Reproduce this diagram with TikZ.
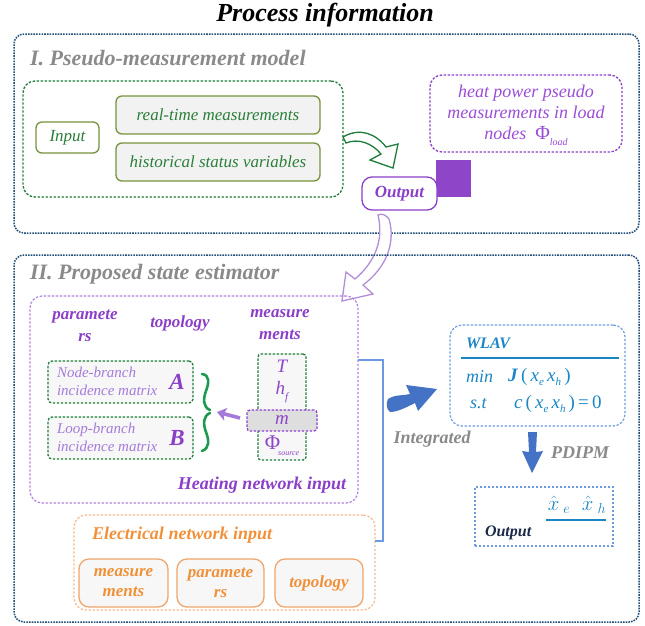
\documentclass[tikz,border=0pt]{standalone}
\usepackage{fontspec}
\setmainfont{Liberation Serif}
\usetikzlibrary{arrows.meta}

\definecolor{dkblue}{HTML}{1F4E79}
\definecolor{grtext}{HTML}{2A7F3A}
\definecolor{grdash}{HTML}{1E7B3A}
\definecolor{olive}{HTML}{77933C}
\definecolor{boxfill}{HTML}{F2F2F2}
\definecolor{lightfill}{HTML}{F7F7F7}
\definecolor{secgray}{HTML}{8A8A8A}
\definecolor{purp}{HTML}{8B3FC8}
\definecolor{purplight}{HTML}{9A4DD6}
\definecolor{purpsoft}{HTML}{A47BDB}
\definecolor{purpline}{HTML}{B07FE0}
\definecolor{purparrow}{HTML}{B38FDB}
\definecolor{sqfill}{HTML}{8E45C8}
\definecolor{brgreen}{HTML}{1E9A50}
\definecolor{wlav}{HTML}{1A86C4}
\definecolor{ltblue}{HTML}{6C9AE0}
\definecolor{arrblue}{HTML}{4472C4}
\definecolor{navy}{HTML}{1B2A48}
\definecolor{orng}{HTML}{F0913A}
\definecolor{orngline}{HTML}{F6B98C}
\definecolor{orngbox}{HTML}{F0A56C}

\newcommand\fsz[2]{\fontsize{#1pt}{#2pt}\selectfont}
\newcommand\lowsub[1]{\raisebox{-4pt}{\fsz{11}{11}\itshape #1}}

\tikzset{
  every node/.style={inner sep=0pt, outer sep=0pt},
  outerbox/.style={draw=dkblue, line width=1.5pt, dash pattern=on 1.6pt off 1.1pt, rounded corners=10pt},
  greenbox/.style={draw=grdash, line width=1.3pt, dash pattern=on 2.4pt off 1.6pt},
  olivebox/.style={draw=olive, line width=1.3pt, rounded corners=6pt},
  purpdash/.style={draw=purp, line width=1.3pt, dash pattern=on 2.4pt off 1.6pt, rounded corners=12pt},
  heatbox/.style={draw=purpline, line width=1.2pt, dash pattern=on 2.4pt off 1.6pt, rounded corners=12pt},
  bluedash/.style={draw=ltblue, line width=1.2pt, dash pattern=on 2.4pt off 1.6pt},
  orngdash/.style={draw=orngline, line width=1.2pt, dash pattern=on 2.4pt off 1.6pt, rounded corners=12pt},
  orngrect/.style={draw=orngbox, fill=lightfill, line width=1.3pt, rounded corners=10pt,
    minimum height=48pt, text=orng, font=\fsz{17}{20}\bfseries\itshape, align=center},
  sectitle/.style={text=secgray, font=\fsz{22}{24}\bfseries\itshape, anchor=base west},
  heatlbl/.style={text=purp, font=\fsz{17}{22}\bfseries\itshape, align=center},
  measitem/.style={text=sqfill, font=\fsz{19}{22}\itshape},
  graylbl/.style={text=secgray, font=\fsz{18}{20}\bfseries\itshape},
  bracefmt/.style={draw=brgreen, line width=2.6pt, line cap=round},
}

\begin{document}
\begin{tikzpicture}[x=1pt,y=-1pt]
\useasboundingbox (0,0) rectangle (645,625);

% ---------- title ----------
\node[font=\fsz{26}{30}\bfseries\itshape] (title) at (325,15) {Process information};

% ---------- part I ----------
\node[outerbox, minimum width=625pt, minimum height=199pt] (outerI) at (326.5,133.5) {};
\node[sectitle] (secI) at (30,65) {I. Pseudo-measurement model};

\node[greenbox, rounded corners=12pt, minimum width=320pt, minimum height=116pt] (inbox) at (183,139) {};
\node[olivebox, fill=white, minimum width=63pt, minimum height=31pt, text=grtext, font=\fsz{17}{20}\itshape] (input) at (67.5,137.5) {Input};
\node[olivebox, fill=boxfill, minimum width=204pt, minimum height=38pt, text=grtext, font=\fsz{17}{20}\itshape] (rt) at (218,115) {real-time measurements};
\node[olivebox, fill=boxfill, minimum width=204pt, minimum height=38pt, text=grtext, font=\fsz{17}{20}\itshape] (hist) at (218,162) {historical status variables};

\node[purpdash, minimum width=192pt, minimum height=77pt] (pseudo) at (526,113.5) {};
\node[text=purplight, font=\fsz{18}{21}\itshape, align=center] (pseudotxt) at (526,115)
  {heat power pseudo\\ measurements in load\\ nodes \ \textup{\fsz{20}{21}Φ}\raisebox{-6pt}{\fsz{10}{10}load}};

\node[fill=sqfill, minimum width=35pt, minimum height=37pt] (sq) at (453.5,178.5) {};
\node[draw=purp, fill=white, line width=1.3pt, rounded corners=10pt, minimum width=75pt, minimum height=33pt,
  text=purp, font=\fsz{17}{18}\bfseries\itshape] (outI) at (399.5,193.5) {Output};

% curved hollow arrow from the inputs to the output
\draw[draw=grdash, fill=white, line width=1.3pt, line join=miter]
  (343,137) .. controls (360,127) and (376,134) .. (386,147) -- (398,144) -- (393,168) -- (370,160)
  -- (381,154) .. controls (372,143) and (358,138) .. (346,143) -- cycle;

% curved hollow arrow from the output down to the heating network block
\draw[draw=purparrow, fill=white, line width=1.3pt, line join=miter]
  (378,215) .. controls (382,213) and (386,215) .. (389,219)
  .. controls (396,243) and (386,268) .. (363,285) -- (373,294) -- (342,301) -- (346,272) -- (355,279)
  .. controls (375,262) and (384,240) .. (378,215) -- cycle;

% ---------- part II ----------
\node[outerbox, minimum width=625pt, minimum height=367pt] (outerII) at (326.5,438.5) {};
\node[sectitle] (secII) at (30,279) {II. Proposed state estimator};

% heating network input block
\node[heatbox, minimum width=328pt, minimum height=207pt] (heat) at (194,399.5) {};
\node[heatlbl] (hparam) at (85,326) {paramete\\ rs};
\node[heatlbl] (htopo) at (180,323) {topology};
\node[heatlbl] (hmeas) at (280,325) {measure\\ ments};

\node[greenbox, rounded corners=4pt, fill=lightfill, minimum width=145pt, minimum height=42pt] (nb) at (120.5,382) {};
\node[text=purpsoft, font=\fsz{15}{18}\itshape, align=left, anchor=west] (nbtxt) at (57,381) {Node-branch\\ incidence matrix};
\node[text=purp, font=\fsz{23}{23}\bfseries\itshape] (matA) at (177,382) {A};

\node[greenbox, rounded corners=4pt, fill=lightfill, minimum width=145pt, minimum height=42pt] (lb) at (120.5,438) {};
\node[text=purpsoft, font=\fsz{15}{18}\itshape, align=left, anchor=west] (lbtxt) at (57,437) {Loop-branch\\ incidence matrix};
\node[text=purp, font=\fsz{23}{23}\bfseries\itshape] (matB) at (177,438) {B};

% braces joining the two matrices
\draw[bracefmt] (202,374) .. controls (210,375) and (209,383) .. (206,391)
  .. controls (203,399) and (203,407) .. (210,410);
\draw[bracefmt] (210,413) .. controls (203,416) and (203,424) .. (206,432)
  .. controls (209,440) and (210,448) .. (202,451);

% measurement column
\node[greenbox, rounded corners=3pt, fill=lightfill, minimum width=48pt, minimum height=106pt] (mcol) at (282,407) {};
\node[measitem] (mT) at (282,366) {T};
\node[measitem] (mh) at (282,392) {h\raisebox{-6pt}{\fsz{11}{11}f}};
\node[draw=purp, fill=black!13, line width=1.3pt, dash pattern=on 2.4pt off 1.6pt, rounded corners=3pt,
  minimum width=70pt, minimum height=21pt] (mbox) at (282,420.5) {};
\node[measitem] (mm) at (282,420) {m};
\node[text=sqfill, font=\fsz{21}{22}] (mphi) at (282,446) {Φ\hspace{-2pt}\raisebox{-6pt}{\fsz{8}{8}\itshape source}};

\coordinate (marrtail) at (240,418);
\coordinate (marrtip) at (217,412);
\draw[draw=purpsoft, line width=3.6pt, -{Stealth[length=9pt,width=13pt,inset=2pt]}] (marrtail) -- (marrtip);

\node[text=purp, font=\fsz{18}{20}\bfseries\itshape] (heatlbl) at (262,485) {Heating network input};

% electrical network input block
\node[orngdash, minimum width=301pt, minimum height=95pt] (elec) at (224.5,562.5) {};
\node[text=orng, font=\fsz{18}{20}\bfseries\itshape, anchor=west] (eleclbl) at (92,535) {Electrical network input};
\node[orngrect, minimum width=89pt] (emeas) at (123.5,583) {measure\\ ments};
\node[orngrect, minimum width=87pt] (eparam) at (220.5,583) {paramete\\ rs};
\node[orngrect, minimum width=88pt] (etopo) at (319,583) {topology};

% bracket collecting both inputs
\coordinate (bjtop) at (383,360);
\coordinate (bjbot) at (383,541);
\draw[draw=ltblue, line width=1.5pt] (heat.east |- bjtop) -- (bjtop) -- (bjbot) -- (elec.east |- bjbot);

% integration arrow
\fill[arrblue] (388,399) .. controls (396,394) and (403,396) .. (410,394) -- (406,385) -- (437,389)
  -- (418,411) -- (415,403) .. controls (405,408) and (397,412) .. (390,412) .. controls (386,409) and (386,403) .. (388,399) -- cycle;
\node[graylbl] (integ) at (432,439) {Integrated};

% WLAV model
\node[bluedash, rounded corners=12pt, minimum width=175pt, minimum height=101pt] (wlavbox) at (537.5,375.5) {};
\node[text=wlav, font=\fsz{16}{18}\bfseries\itshape, anchor=west] (wlavt) at (466,343) {WLAV};
\coordinate (wl1) at (461,358);
\coordinate (wl2) at (619,358);
\draw[draw=wlav, line width=1.5pt] (wl1) -- (wl2);
\node[text=wlav, font=\fsz{18}{20}\itshape, anchor=west] (wmin) at (466,377) {min};
\node[text=wlav, font=\fsz{19}{20}, anchor=west] (wobj) at (508,377)
  {\textbf{\textit{J}}\,(\,\textit{x}\lowsub{e}\,\textit{x}\lowsub{h}\,)};
\node[text=wlav, font=\fsz{18}{20}\itshape, anchor=west] (wst) at (470,404) {s.t};
\node[text=wlav, font=\fsz{19}{20}, anchor=west] (wcon) at (514,404)
  {\textit{c}\,(\,\textit{x}\lowsub{e}\,\textit{x}\lowsub{h}\,)\,=\,0};

% solution arrow
\fill[arrblue] (528,432) -- (537,432) -- (536,452) -- (543,451) -- (532,473) -- (522,451) -- (529,452) -- cycle;
\node[graylbl] (pdipm) at (580,453) {PDIPM};

% estimator output
\node[bluedash, minimum width=138pt, minimum height=59pt] (outII) at (544,516.5) {};
\node[text=wlav, font=\fsz{21}{22}] (xhat) at (577,505) {$\hat{x}_{\;e}\;\;\hat{x}_{\;h}$};
\coordinate (xl1) at (546,520);
\coordinate (xl2) at (606,520);
\draw[draw=wlav, line width=1.5pt] (xl1) -- (xl2);
\node[text=navy, font=\fsz{16}{18}\bfseries\itshape, anchor=west] (outlbl) at (485,533) {Output};

\end{tikzpicture}
\end{document}
